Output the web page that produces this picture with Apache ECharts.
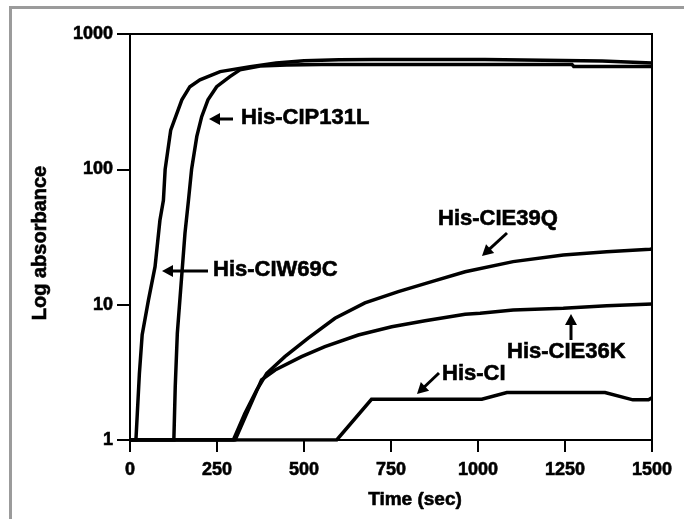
<!DOCTYPE html>
<html>
<head>
<meta charset="utf-8">
<script src="https://cdn.jsdelivr.net/npm/echarts@6/dist/echarts.min.js"></script>
<style>
  html, body { margin: 0; padding: 0; background: #fff; }
  #chart { width: 684px; height: 519px; }
</style>
</head>
<body>
<div id="chart"></div>
<script>
// x ticks and y decades
const timeTicks = [0, 250, 500, 750, 1000, 1250, 1500];
const absTicks = [1, 10, 100, 1000];

// [time (sec), absorbance]
const cIW69C = [
  [0, 1], [17, 1], [21, 1.57], [27, 3.1], [35, 6], [53, 10.8], [72, 19.1],
  [86, 42], [96, 59], [101, 100], [117, 195], [149, 326], [172, 408],
  [201, 458], [259, 527], [345, 574], [420, 610], [500, 635], [600, 645],
  [700, 649], [1020, 649], [1025, 632], [1357, 632], [1360, 611], [1500, 611]
];
const cIP131L = [
  [0, 1], [126, 1], [130, 2.48], [136, 6.15], [147, 14.4], [158, 33.8],
  [168, 59], [177, 100], [192, 175], [206, 245], [224, 326], [249, 408],
  [287, 484], [316, 543], [374, 580], [450, 590], [550, 596], [1270, 596],
  [1275, 576], [1500, 576]
];
const cIE39Q = [
  [0, 1], [297, 1], [330, 1.57], [364, 2.34], [393, 3.11], [445, 4.13],
  [512, 5.66], [589, 7.94], [675, 10.3], [771, 12.5], [867, 14.8],
  [963, 17.5], [1101, 20.8], [1245, 23.3], [1370, 24.6], [1494, 25.7], [1500, 25.8]
];
const cIE36K = [
  [0, 1], [302, 1], [340, 1.67], [378, 2.78], [417, 3.29], [493, 4.13],
  [560, 4.89], [656, 5.97], [752, 6.87], [848, 7.6], [963, 8.5], [1006, 8.64],
  [1101, 9.14], [1245, 9.4], [1370, 9.8], [1500, 10.1]
];
const cI = [
  [0, 1], [594, 1], [694, 2.0], [1011, 2.0], [1083, 2.24], [1365, 2.24],
  [1445, 1.98], [1490, 1.98], [1500, 2.05]
];

const seriesList = [
  { name: 'His-CIW69C', data: cIW69C },
  { name: 'His-CIP131L', data: cIP131L },
  { name: 'His-CIE39Q', data: cIE39Q },
  { name: 'His-CIE36K', data: cIE36K },
  { name: 'His-CI', data: cI }
];

// annotation labels: text anchor and arrow tail -> tip, in pixels
const notes = [
  { text: 'His-CIP131L', x: 241, y: 118, tail: [233, 119], tip: [209, 119] },
  { text: 'His-CIW69C', x: 213, y: 270, tail: [208, 271], tip: [162, 271] },
  { text: 'His-CIE39Q', x: 438, y: 219, tail: [507, 233], tip: [482, 256] },
  { text: 'His-CIE36K', x: 507, y: 352, tail: [571, 340], tip: [571, 314] },
  { text: 'His-CI', x: 442, y: 374, tail: [439, 373], tip: [417, 394] }
];

const FONT = '"Liberation Sans", Arial, sans-serif';
// a thin black outline makes the bold text as heavy as in the scan
const heavy = { textBorderColor: '#000', textBorderWidth: 0.6 };

function arrow(tail, tip) {
  const dx = tip[0] - tail[0], dy = tip[1] - tail[1];
  const len = Math.sqrt(dx * dx + dy * dy);
  const ux = dx / len, uy = dy / len;
  const headLen = 11, halfW = 6;
  const bx = tip[0] - ux * headLen, by = tip[1] - uy * headLen;
  return [
    {
      type: 'line',
      shape: { x1: tail[0], y1: tail[1], x2: bx + ux * 2, y2: by + uy * 2 },
      style: { stroke: '#000', lineWidth: 3 }
    },
    {
      type: 'polygon',
      shape: { points: [tip, [bx - uy * halfW, by + ux * halfW], [bx + uy * halfW, by - ux * halfW]] },
      style: { fill: '#000' }
    }
  ];
}

const graphics = [
  { type: 'rect', shape: { x: 9, y: 6, width: 3, height: 513 }, style: { fill: '#9b9b9b' } },
  { type: 'rect', shape: { x: 9, y: 6, width: 675, height: 3 }, style: { fill: '#9b9b9b' } }
];
notes.forEach(n => {
  graphics.push({
    type: 'text',
    x: n.x, y: n.y,
    style: {
      text: n.text, fill: '#000', fontSize: 22, fontWeight: 'bold', fontFamily: FONT,
      align: 'left', verticalAlign: 'middle', stroke: '#000', lineWidth: 0.6
    }
  });
  arrow(n.tail, n.tip).forEach(g => graphics.push(g));
});

const chart = echarts.init(document.getElementById('chart'), null, { renderer: 'canvas' });

const option = {
  animation: false,
  backgroundColor: '#fff',
  textStyle: { fontFamily: FONT },
  grid: {
    left: 130, right: 32, top: 34, bottom: 79,
    show: true, borderColor: '#000', borderWidth: 2
  },
  xAxis: {
    type: 'value',
    min: timeTicks[0],
    max: timeTicks[timeTicks.length - 1],
    interval: 250,
    name: 'Time (sec)',
    nameLocation: 'middle',
    nameGap: 50,
    nameTextStyle: Object.assign({ color: '#000', fontSize: 19, fontWeight: 'bold', padding: [0, 0, 0, 48] }, heavy),
    axisLine: { lineStyle: { color: '#000', width: 2 } },
    axisTick: { length: 12, lineStyle: { color: '#000', width: 2 } },
    axisLabel: Object.assign({ color: '#000', fontSize: 18, fontWeight: 'bold', margin: 21, formatter: v => String(v) }, heavy),
    splitLine: { show: false }
  },
  yAxis: {
    type: 'log',
    logBase: 10,
    min: absTicks[0],
    max: absTicks[absTicks.length - 1],
    name: 'Log absorbance',
    nameLocation: 'middle',
    nameGap: 80,
    nameTextStyle: Object.assign({ color: '#000', fontSize: 20, fontWeight: 'bold', padding: [0, 12, 0, 0] }, heavy),
    axisLine: { lineStyle: { color: '#000', width: 2 } },
    axisTick: { length: 13, lineStyle: { color: '#000', width: 2 } },
    axisLabel: Object.assign({ color: '#000', fontSize: 18, fontWeight: 'bold', margin: 17, formatter: v => String(v) }, heavy),
    splitLine: { show: false }
  },
  series: seriesList.map(s => ({
    name: s.name,
    type: 'line',
    data: s.data,
    showSymbol: false,
    symbol: 'none',
    lineStyle: { color: '#000', width: 3.5, join: 'miter' },
    emphasis: { disabled: true }
  })),
  graphic: graphics
};

chart.setOption(option);
</script>
</body>
</html>
